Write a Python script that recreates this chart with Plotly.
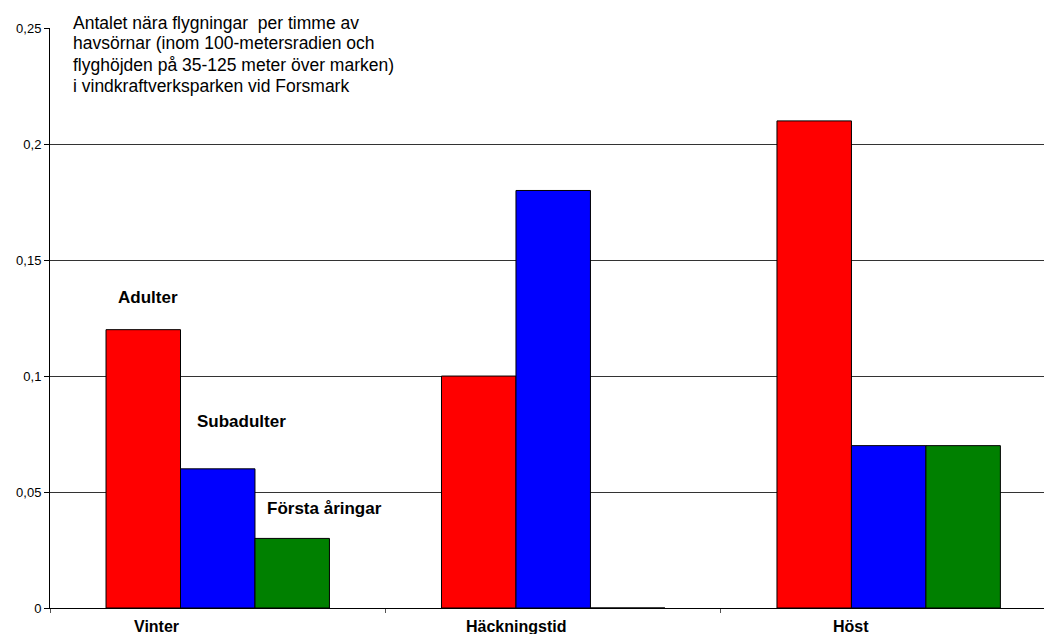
import plotly.graph_objects as go

categories = ["Vinter", "Häckningstid", "Höst"]
series_names = ["Adulter", "Subadulter", "Första åringar"]
adulter = [0.12, 0.10, 0.21]
subadulter = [0.06, 0.18, 0.07]
forsta = [0.03, 0.0, 0.07]
colors = ["#FF0000", "#0000FF", "#008000"]
ytick_vals = [0, 0.05, 0.1, 0.15, 0.2, 0.25]
ytick_text = ["0", "0,05", "0,1", "0,15", "0,2", "0,25"]
title_lines = [
    "Antalet nära flygningar  per timme av",
    "havsörnar (inom 100-metersradien och",
    "flyghöjden på 35-125 meter över marken)",
    "i vindkraftverksparken vid Forsmark",
]

FONT = "Liberation Sans, Arial, sans-serif"
W, H = 1044, 634
ML, MR, MT, MB = 50, 0, 28, 26
PW, PH = W - ML - MR, H - MT - MB


def px_x(px):
    return (px - ML) / PW


def px_y(py):
    return (H - MB - py) / PH


fig = go.Figure()
for name, vals, col in zip(series_names, [adulter, subadulter, forsta], colors):
    fig.add_trace(go.Bar(
        x=categories, y=vals, name=name,
        marker=dict(color=col, line=dict(color="#000000", width=1)),
    ))

fig.update_layout(
    width=W, height=H,
    margin=dict(l=ML, r=MR, t=MT, b=MB),
    barmode="group", bargap=0.334, bargroupgap=0,
    showlegend=False,
    plot_bgcolor="white", paper_bgcolor="white",
    font=dict(family=FONT, color="#000000", size=13),
    xaxis=dict(
        type="category", range=[-0.5, 2.463],
        showgrid=False, showline=True, linecolor="#000000", linewidth=1,
        ticks="outside", tickson="boundaries", ticklen=4, tickcolor="#555555",
        showticklabels=False,
    ),
    yaxis=dict(
        range=[0, 0.25005], tickvals=ytick_vals, ticktext=ytick_text,
        showgrid=True, gridcolor="#333333", gridwidth=1,
        showline=True, linecolor="#000000", linewidth=1,
        ticks="outside", ticklen=5, tickcolor="#000000",
        tickfont=dict(family=FONT, size=13, color="#000000"),
        zeroline=False,
    ),
)

# white box behind the title text (interrupts top gridline)
fig.add_shape(
    type="rect", xref="paper", yref="paper",
    x0=px_x(65), x1=px_x(396), y0=px_y(95), y1=px_y(4),
    fillcolor="white", line=dict(width=0), layer="above",
)

for i, line in enumerate(title_lines):
    fig.add_annotation(
        xref="paper", yref="paper", x=px_x(71), y=px_y(22.5 + 21 * i),
        xanchor="left", yanchor="middle", align="left",
        text=line, showarrow=False,
        font=dict(family=FONT, size=17.5, color="#000000"),
    )

# category labels (placed as in the original, slightly left of group centre)
label_offsets = [-0.183, -0.11, -0.112]
for i, (cat, off) in enumerate(zip(categories, label_offsets)):
    fig.add_annotation(
        xref="x", yref="paper", x=i + off, y=px_y(626),
        xanchor="center", yanchor="middle", text=cat, showarrow=False,
        font=dict(family=FONT, size=16, weight="bold", color="#000000"),
    )

label_pos = [(-0.208, 0.134), (0.07, 0.0806), (0.318, 0.0427)]
for name, (lx, ly) in zip(series_names, label_pos):
    fig.add_annotation(
        xref="x", yref="y", x=lx, y=ly, text=name, showarrow=False,
        font=dict(family=FONT, size=17, weight="bold", color="#000000"),
    )

fig.write_html("out.html")
